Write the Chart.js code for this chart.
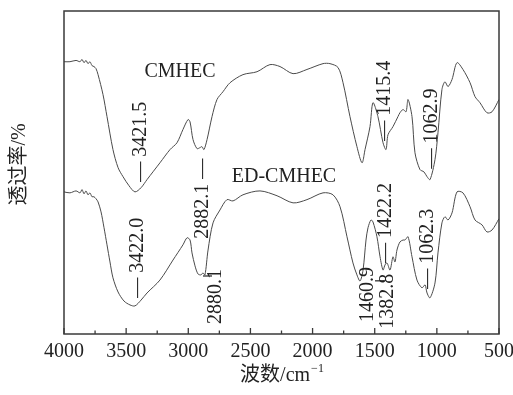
<!DOCTYPE html>
<html>
<head>
<meta charset="utf-8">
<script src="https://cdn.jsdelivr.net/npm/chart.js@4"></script>
<style>
html, body { margin: 0; padding: 0; background: #fff; }
#wrap { width: 513px; height: 395px; }
</style>
</head>
<body>
<div id="wrap"><canvas id="ftir"></canvas></div>
<script>
const SERIF = "'Liberation Serif', 'Noto Sans CJK SC', serif";

// CMHEC spectrum (wavenumber cm-1 / transmittance, arbitrary %)
const cmhecWavenumber = [4000,3952,3903,3871,3855,3839,3823,3807,3791,3775,3759,3743,3726,3686,3654,3606,3565,3525,3477,3429,
  3380,3332,3228,3147,3091,3043,3002,2986,2962,2930,2906,2890,2874,2849,2809,2769,2721,2664,2560,2447,
  2343,2262,2157,2045,1916,1860,1795,1755,1699,1643,1602,1578,1538,1514,1474,1433,1409,1393,1353,1313,
  1297,1272,1248,1232,1200,1176,1136,1104,1079,1055,1015,991,959,935,910,878,838,790,733,693,653,597,556,500];
const cmhecTransmittance = [84.3,84.3,84.7,84.3,85.0,84.0,84.7,83.7,84.3,83.1,82.8,82.2,80.3,74.1,67.3,57.1,51.5,48.7,45.9,44.0,
  45.3,47.8,53.0,57.1,59.2,63.3,66.4,65.7,60.2,57.4,57.7,58.0,57.1,60.2,67.3,72.6,75.0,77.8,80.3,81.2,
  83.4,82.8,80.6,81.9,83.7,83.7,82.5,77.8,67.3,58.0,53.0,57.1,64.2,71.6,67.3,59.2,57.1,61.7,64.2,67.3,
  68.5,69.5,68.8,72.6,67.3,56.1,50.9,50.2,48.7,47.8,54.0,62.3,75.7,78.1,76.6,78.8,84.0,81.9,77.8,73.5,71.6,68.5,68.8,72.6];

// ED-CMHEC spectrum
const edWavenumber = [4000,3952,3903,3871,3855,3839,3823,3807,3791,3775,3759,3743,3726,3702,3678,3654,3630,3606,3565,3517,
  3469,3429,3380,3332,3228,3123,3043,3010,2986,2970,2946,2922,2898,2882,2866,2841,2801,2745,2689,2640,
  2560,2423,2286,2157,2045,1916,1836,1779,1723,1675,1643,1618,1594,1570,1554,1530,1514,1482,1457,1433,
  1417,1401,1377,1353,1337,1321,1297,1272,1256,1232,1200,1160,1120,1095,1079,1055,1015,991,959,935,
  910,878,838,790,733,693,637,597,556,500];
const edTransmittance = [44.0,43.7,44.3,43.7,44.7,43.4,44.3,43.1,43.7,42.5,42.5,41.9,40.9,37.8,32.9,27.6,22.3,17.4,13.0,10.2,
  9.0,8.7,10.5,12.7,16.7,22.9,27.6,29.8,29.1,25.1,21.1,18.6,18.3,18.9,18.3,26.0,34.4,38.4,41.6,41.2,
  43.1,44.3,42.8,40.6,41.6,43.7,43.1,39.4,30.1,22.0,18.3,16.4,19.8,29.1,32.9,35.3,34.7,30.1,23.9,19.8,
  21.4,22.0,19.8,23.9,22.3,26.0,28.5,29.1,29.1,30.1,23.9,16.7,14.3,15.2,12.7,11.2,15.8,25.1,34.4,36.3,
  35.3,37.5,44.0,43.7,39.4,35.3,33.8,31.6,32.2,35.7];

const xTickLabels = [4000, 3500, 3000, 2500, 2000, 1500, 1000, 500];
const xMinorTicks = [3750, 3250, 2750, 2250, 1750, 1250, 750];

const seriesNames = ['CMHEC', 'ED-CMHEC'];

// peak labels (vertical text), anchored at the lower end of the text
const peakLabels = ['— 3421.5', '2882.1 —', '2880.1', '— 3422.0', '— 1415.4', '— 1062.9', '1460.9', '1382.8', '— 1422.2', '— 1062.3'];

function toPoints(xs, ys) {
  return xs.map((v, i) => ({ x: v, y: ys[i] }));
}

// where things sit, in data units
const nameAt = [[3067, 79.7], [2230, 47.1]];
const peakAt = [[3380, 47.1], [2882, 29.5], [2777, 3.1], [3405, 11.2], [1417, 59.8], [1039, 51.2], [1554, 3.7], [1393, 1.6], [1409, 22.0], [1071, 14.0]];
const peakBar = [false, false, true, false, false, false, false, true, false, false];

const decor = {
  id: 'decor',
  afterDatasetsDraw(chart) {
    const { ctx, chartArea: a, scales: { x, y } } = chart;
    ctx.save();

    // frame
    ctx.strokeStyle = '#3a3a3a';
    ctx.lineWidth = 1.5;
    ctx.strokeRect(a.left, a.top, a.right - a.left, a.bottom - a.top);

    // inward ticks on bottom axis
    ctx.lineWidth = 1.3;
    xTickLabels.concat(xMinorTicks).forEach(v => {
      const px = x.getPixelForValue(v);
      const len = v % 500 === 0 ? 6 : 3.5;
      ctx.beginPath();
      ctx.moveTo(px, a.bottom);
      ctx.lineTo(px, a.bottom - len);
      ctx.stroke();
    });

    ctx.fillStyle = '#222';
    ctx.font = '20px ' + SERIF;

    // series names
    ctx.textAlign = 'center';
    ctx.textBaseline = 'alphabetic';
    seriesNames.forEach((n, i) => {
      ctx.fillText(n, x.getPixelForValue(nameAt[i][0]), y.getPixelForValue(nameAt[i][1]));
    });

    // peak labels
    ctx.textAlign = 'left';
    ctx.textBaseline = 'middle';
    ctx.strokeStyle = '#222';
    ctx.lineWidth = 1.2;
    peakLabels.forEach((t, i) => {
      ctx.save();
      ctx.translate(x.getPixelForValue(peakAt[i][0]), y.getPixelForValue(peakAt[i][1]));
      ctx.rotate(-Math.PI / 2);
      ctx.fillText(t, 0, 0);
      if (peakBar[i]) {
        const w = ctx.measureText(t).width;
        ctx.beginPath();
        ctx.moveTo(w - 7, -13);
        ctx.lineTo(w - 7, -4);
        ctx.stroke();
      }
      ctx.restore();
    });

    // y title
    ctx.save();
    ctx.translate(a.left - 44, (a.top + a.bottom) / 2 - 8);
    ctx.rotate(-Math.PI / 2);
    ctx.textAlign = 'center';
    ctx.fillText('透过率/%', 0, 0);
    ctx.restore();

    // x title with superscript
    const main = '波数/cm', sup = '−1';
    ctx.textBaseline = 'alphabetic';
    ctx.textAlign = 'left';
    const wMain = ctx.measureText(main).width;
    ctx.font = '12px ' + SERIF;
    const wSup = ctx.measureText(sup).width;
    const cx = (a.left + a.right) / 2;
    const start = cx - (wMain + wSup) / 2;
    const base = a.bottom + 47;
    ctx.font = '20px ' + SERIF;
    ctx.fillText(main, start, base);
    ctx.font = '12px ' + SERIF;
    ctx.fillText(sup, start + wMain + 1, base - 9);

    ctx.restore();
  }
};

new Chart(document.getElementById('ftir'), {
  type: 'line',
  data: {
    datasets: [
      { label: seriesNames[0], data: toPoints(cmhecWavenumber, cmhecTransmittance) },
      { label: seriesNames[1], data: toPoints(edWavenumber, edTransmittance) },
    ],
  },
  options: {
    responsive: true,
    maintainAspectRatio: false,
    animation: false,
    devicePixelRatio: 1,
    layout: { padding: { left: 64, right: 14, top: 11, bottom: 0 } },
    elements: {
      line: { borderColor: '#4a4a4a', borderWidth: 1, tension: 0.3, fill: false },
      point: { radius: 0 },
    },
    plugins: { legend: { display: false }, tooltip: { enabled: false } },
    scales: {
      x: {
        type: 'linear',
        reverse: true,
        min: 500,
        max: 4000,
        grid: { display: false, drawTicks: false },
        border: { display: false },
        afterFit: s => { s.height = 61; s.paddingLeft = 0; s.paddingRight = 0; },
        afterBuildTicks: s => { s.ticks = xTickLabels.map(v => ({ value: v })); },
        ticks: {
          padding: 6,
          color: '#222',
          font: { family: SERIF, size: 20 },
          maxRotation: 0,
          autoSkip: false,
          callback: v => String(v),
        },
      },
      y: { display: false, min: 0, max: 100 },
    },
  },
  plugins: [decor],
});
</script>
</body>
</html>
